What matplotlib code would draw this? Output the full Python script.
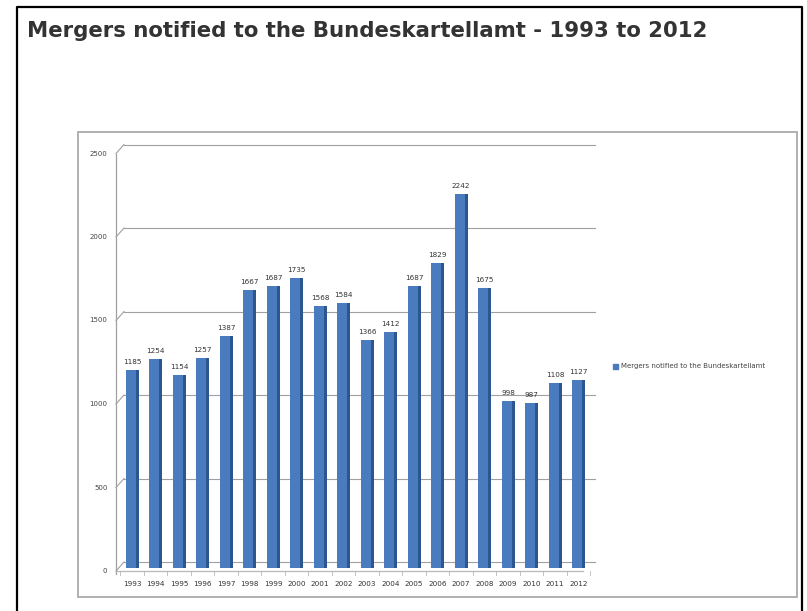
import numpy as np
import matplotlib
matplotlib.use("Agg")
import matplotlib.pyplot as plt
import matplotlib.patches as mpatches
import matplotlib.transforms as mtransforms
from matplotlib.lines import Line2D

# ── data ─────────────────────────────────────────────────────────────
years = [str(y) for y in range(1993, 2013)]
mergers = [1185, 1254, 1154, 1257, 1387, 1667, 1687, 1735, 1568, 1584,
           1366, 1412, 1687, 1829, 2242, 1675, 998, 987, 1108, 1127]
y_ticks = [0, 500, 1000, 1500, 2000, 2500]
series_name = "Mergers notified to the Bundeskartellamt"
title = "Mergers notified to the Bundeskartellamt - 1993 to 2012"

W, H = 807, 611
BLUE = "#4a7bbf"
BLUE_DARK = "#2c5690"
GRID = "#a0a0a0"


def fx(x):
    return x / W


def fy(y):
    return 1 - y / H


fig = plt.figure(figsize=(W / 100, H / 100), dpi=100)
fig.patch.set_facecolor("white")

# outer page frame + chart image frame
fig.add_artist(Line2D([fx(17), fx(17), fx(802), fx(802)], [fy(H + 5), fy(7), fy(7), fy(H + 5)],
                      color="black", lw=1.6, transform=fig.transFigure))
fig.add_artist(mpatches.Rectangle((fx(78), fy(597)), fx(797 - 78), (597 - 132) / H,
                                  fill=False, ec="#b0b0b0", lw=1.4, transform=fig.transFigure))

fig.text(fx(27), fy(31), title, fontsize=15.3, fontweight="bold", color="#333333",
         va="center", ha="left", family="DejaVu Sans")

# ── plot area ────────────────────────────────────────────────────────
left, right, bottom, top = 118, 595, 568, 150.5
ax = fig.add_axes([fx(left), fy(bottom), fx(right - left), (bottom - top) / H])
ax.set_xlim(-0.6, 19.7)
ax.set_ylim(0, 2500)
ax.axis("off")

x = np.arange(len(years))
DX, DY = 6, 6
back = mtransforms.offset_copy(ax.transData, fig=fig, x=DX, y=DY, units="dots")
front = mtransforms.offset_copy(ax.transData, fig=fig, x=0, y=-3, units="dots")

# gridlines on the back wall, with a small diagonal from the side wall
for v in y_ticks:
    ax.plot([-0.6, 19.45], [v, v], color=GRID, lw=0.8, transform=back, clip_on=False)
    p0 = ax.transData.transform((-0.6, v)) + np.array([-2, -3])
    p1 = p0 + np.array([DX + 2, DY + 3])
    fig.add_artist(Line2D([p0[0] / W, p1[0] / W], [p0[1] / H, p1[1] / H],
                          color=GRID, lw=0.8, transform=fig.transFigure))
    ax.text(-1.05, v, str(v), fontsize=5, color="#444444", ha="right", va="center",
            transform=front)

# left wall and floor edge
ax.plot([-0.7, -0.7], [-20, 2500], color=GRID, lw=0.9, transform=front, clip_on=False)
ax.plot([-0.7, 19.2], [0, 0], color="#b8b8b8", lw=0.9, transform=front, clip_on=False)
for i in range(len(years) + 1):
    ax.plot([i - 0.5, i - 0.5], [0, -25], color="#b8b8b8", lw=0.6, transform=front,
            clip_on=False)

# bars with a darker side face
ax.bar(x, mergers, width=0.55, color=BLUE, edgecolor="none", zorder=3)
ax.bar(x + 0.22, mergers, width=0.12, color=BLUE_DARK, edgecolor="none", zorder=4)
for xi, v in zip(x, mergers):
    ax.text(xi, v + 30, str(v), fontsize=5.2, color="#333333", ha="center", va="bottom")
    ax.text(xi, -95, years[xi], fontsize=5.2, color="#333333", ha="center", va="center")

# legend
fig.add_artist(mpatches.Rectangle((fx(613), fy(369)), fx(5), 5 / H, color=BLUE,
                                  transform=fig.transFigure))
fig.text(fx(621), fy(366), series_name, fontsize=5, color="#444444", va="center", ha="left")

fig.savefig("out.png", dpi=100, facecolor="white")
